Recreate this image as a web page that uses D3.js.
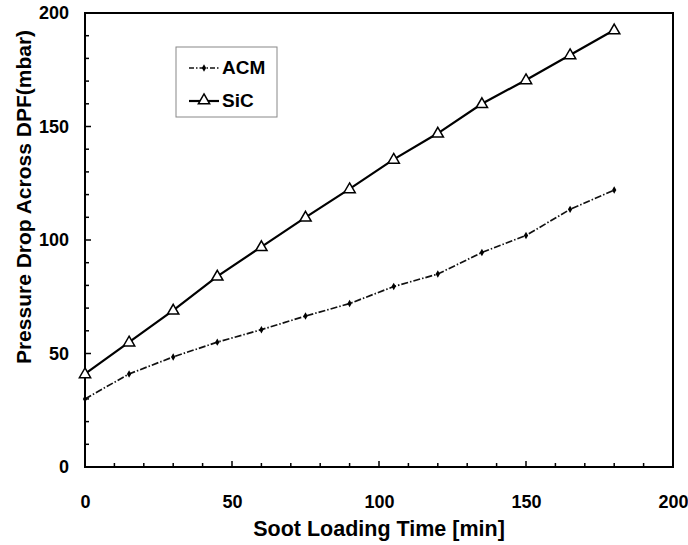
<!DOCTYPE html>
<html>
<head>
<meta charset="utf-8">
<script src="https://cdn.jsdelivr.net/npm/d3@7"></script>
<style>
  html, body { margin: 0; padding: 0; background: #fff; }
  svg { display: block; font-family: "Liberation Sans", Arial, sans-serif; }
</style>
</head>
<body>
<svg id="chart" width="688" height="545"></svg>
<script>
// Soot loading time (min) at which pressure drop was sampled
const times = [0, 15, 30, 45, 60, 75, 90, 105, 120, 135, 150, 165, 180];
// Pressure drop across the DPF (mbar)
const acmValues = [30, 41, 48.5, 55, 60.5, 66.5, 72, 79.5, 85, 94.5, 102, 113.5, 122];
const sicValues = [41, 55, 69, 84, 97, 110, 122.5, 135.5, 147, 160, 170.5, 181.5, 192.5];
const xTicks = [0, 50, 100, 150, 200];
const yTicks = [0, 50, 100, 150, 200];
const seriesNames = ["ACM", "SiC"];

const svg = d3.select("#chart");
const margin = { left: 85, right: 15, top: 13, bottom: 78 };
const W = 688, H = 545;
const x = d3.scaleLinear().domain([0, 200]).range([margin.left, W - margin.right]);
const y = d3.scaleLinear().domain([0, 200]).range([H - margin.bottom, margin.top]);

// Frame around the plot
svg.append("rect")
  .attr("x", x(0)).attr("y", y(200))
  .attr("width", x(200) - x(0)).attr("height", y(0) - y(200))
  .attr("fill", "none").attr("stroke", "#000").attr("stroke-width", 2);

// Inward ticks: minor every 10, major every 50
const minor = d3.range(0, 201, 10);
const tickG = svg.append("g").attr("stroke", "#000").attr("stroke-width", 1.5);
minor.forEach(v => {
  const len = v % 50 === 0 ? 6 : 4;
  tickG.append("line").attr("x1", x(v)).attr("x2", x(v)).attr("y1", y(0)).attr("y2", y(0) - len);
  tickG.append("line").attr("x1", x(0)).attr("x2", x(0) + len).attr("y1", y(v)).attr("y2", y(v));
});

// Axis labels via d3 axes with tick lines hidden
const xAxis = svg.append("g").attr("transform", `translate(0,${y(0)})`)
  .call(d3.axisBottom(x).tickValues(xTicks).tickSize(0).tickPadding(26).tickFormat(d3.format("d")));
const yAxis = svg.append("g").attr("transform", `translate(${x(0)},0)`)
  .call(d3.axisLeft(y).tickValues(yTicks).tickSize(0).tickPadding(16).tickFormat(d3.format("d")));
[xAxis, yAxis].forEach(a => {
  a.select(".domain").remove();
  a.selectAll("text").attr("font-size", 18).attr("font-weight", "bold")
    .attr("font-family", "'Liberation Sans', Arial, sans-serif").attr("fill", "#000");
});
xAxis.selectAll("text").attr("dy", 0).attr("y", 41);

// Axis titles
svg.append("text")
  .attr("x", 379).attr("y", 536)
  .attr("text-anchor", "middle").attr("font-size", 21.5).attr("font-weight", "bold")
  .text("Soot Loading Time [min]");
svg.append("text")
  .attr("transform", "translate(31,197) rotate(-90)")
  .attr("text-anchor", "middle").attr("font-size", 21).attr("font-weight", "bold")
  .text("Pressure Drop Across DPF(mbar)");

const line = d3.line().x(d => x(d[0])).y(d => y(d[1]));
const acm = times.map((t, i) => [t, acmValues[i]]);
const sic = times.map((t, i) => [t, sicValues[i]]);

// ACM: dash-dot line with small diamond markers
svg.append("path").datum(acm)
  .attr("d", line).attr("fill", "none").attr("stroke", "#111")
  .attr("stroke-width", 1.7).attr("stroke-dasharray", "7,2,1.5,2");
const diamond = d3.symbol().type(d3.symbolDiamond).size(16);
svg.append("g").selectAll("path").data(acm).join("path")
  .attr("d", diamond).attr("transform", d => `translate(${x(d[0])},${y(d[1])})`)
  .attr("fill", "#000");

// SiC: solid line with open triangles
svg.append("path").datum(sic)
  .attr("d", line).attr("fill", "none").attr("stroke", "#000").attr("stroke-width", 2.2);
const tri = d3.symbol().type(d3.symbolTriangle).size(55);
svg.append("g").selectAll("path").data(sic).join("path")
  .attr("d", tri).attr("transform", d => `translate(${x(d[0])},${y(d[1]) + 0.5})`)
  .attr("fill", "#fff").attr("stroke", "#000").attr("stroke-width", 1.5);

// Legend
const lg = svg.append("g");
lg.append("rect").attr("x", 176).attr("y", 47).attr("width", 101).attr("height", 70)
  .attr("fill", "#fff").attr("stroke", "#888").attr("stroke-width", 1);
lg.append("line").attr("x1", 189).attr("x2", 219).attr("y1", 68).attr("y2", 68)
  .attr("stroke", "#111").attr("stroke-width", 1.7).attr("stroke-dasharray", "5,2,1.5,2");
lg.append("path").attr("d", diamond).attr("transform", "translate(204,68)").attr("fill", "#000");
lg.append("line").attr("x1", 189).attr("x2", 219).attr("y1", 101).attr("y2", 101)
  .attr("stroke", "#000").attr("stroke-width", 2.2);
lg.append("path").attr("d", tri).attr("transform", "translate(204,100.5)")
  .attr("fill", "#fff").attr("stroke", "#000").attr("stroke-width", 1.5);
lg.selectAll("text.lab").data(seriesNames).join("text")
  .attr("x", 222)
  .attr("y", (d, i) => i === 0 ? 74 : 107)
  .attr("font-size", 19).attr("font-weight", "bold").text(d => d);
</script>
</body>
</html>
